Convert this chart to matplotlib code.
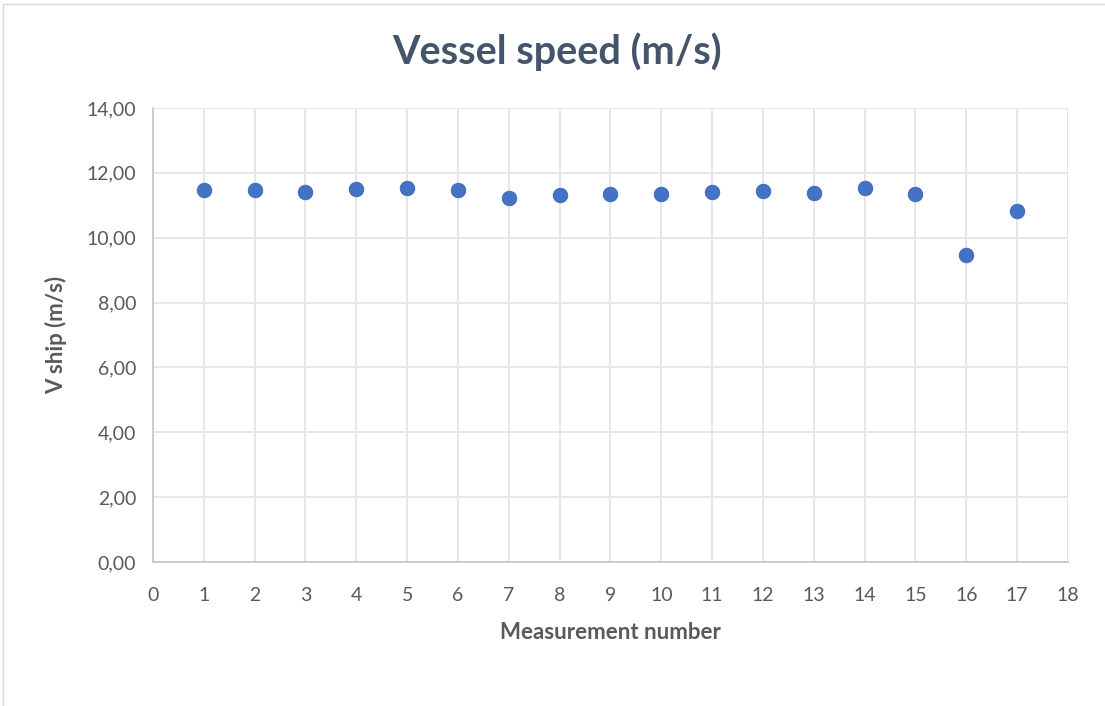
import matplotlib
matplotlib.use("Agg")
import matplotlib.pyplot as plt
from matplotlib.ticker import FuncFormatter, MultipleLocator
from matplotlib.patches import Rectangle

measurement = list(range(1, 18))
speed = [11.48, 11.47, 11.40, 11.51, 11.53, 11.47, 11.24, 11.31, 11.35,
         11.35, 11.40, 11.43, 11.39, 11.54, 11.35, 9.47, 10.83]

title = "Vessel speed (m/s)"
xlabel = "Measurement number"
ylabel = "V ship (m/s)"

plt.rcParams['font.family'] = ['Lato', 'DejaVu Sans']
text_col = "#595959"
title_col = "#44546A"
grid_col = "#E1E5EC"
axis_col = "#C3C9D4"
marker_col = "#4472C4"

fig = plt.figure(figsize=(11.05, 7.06), dpi=100)
fig.patches.append(Rectangle((3 / 1105, -0.01), 1.2, 1 - 4 / 706 + 0.01,
                             transform=fig.transFigure, fill=False,
                             edgecolor="#D9D9D9", linewidth=1))

ax = fig.add_axes([153 / 1105, 1 - 562 / 706, (1068 - 153) / 1105, (562 - 108) / 706])
ax.scatter(measurement, speed, s=110, color=marker_col, edgecolors="#3A66B4",
           linewidths=0.6, zorder=3)

ax.set_xlim(0, 18)
ax.set_ylim(0, 14)
ax.xaxis.set_major_locator(MultipleLocator(1))
ax.yaxis.set_major_locator(MultipleLocator(2))
ax.yaxis.set_major_formatter(FuncFormatter(lambda v, p: f"{v:.2f}".replace(".", ",")))
ax.grid(True, color=grid_col, linewidth=1.3)
ax.set_axisbelow(True)
for s in ("top", "right"):
    ax.spines[s].set_visible(False)
for s in ("left", "bottom"):
    ax.spines[s].set_color(axis_col)
    ax.spines[s].set_linewidth(1.3)
ax.tick_params(axis="both", length=0, labelsize=14, colors=text_col)
ax.tick_params(axis="x", pad=18)
ax.tick_params(axis="y", pad=12)

ax.set_xlabel(xlabel, fontsize=16, fontweight="bold", color=text_col, labelpad=13)
ax.set_ylabel(ylabel, fontsize=16, fontweight="bold", color=text_col, labelpad=14)
fig.text(557 / 1105, 1 - 52 / 706, title, fontsize=28.5, fontweight="bold",
         color=title_col, ha="center", va="center")

fig.savefig("out.png", dpi=100)
